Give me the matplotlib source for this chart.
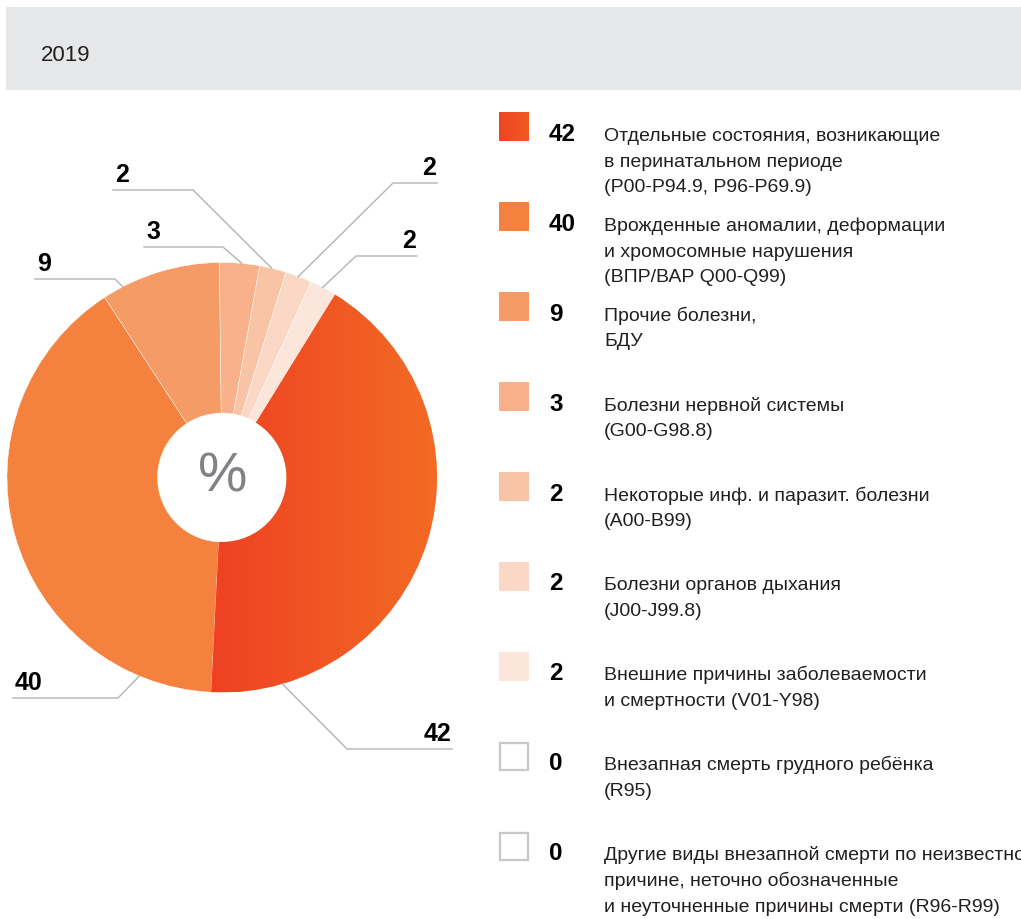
import numpy as np
import matplotlib
matplotlib.use('Agg')
import matplotlib.pyplot as plt
from matplotlib.patches import Rectangle
from matplotlib.colors import LinearSegmentedColormap

plt.rcParams['font.family'] = ['Liberation Sans', 'DejaVu Sans']

# Данные
year = '2019'
values = [42, 40, 9, 3, 2, 2, 2, 0, 0]
descriptions = [
    'Отдельные состояния, возникающие\nв перинатальном периоде\n(P00-P94.9, P96-P69.9)',
    'Врожденные аномалии, деформации\nи хромосомные нарушения\n(ВПР/ВАР Q00-Q99)',
    'Прочие болезни,\nБДУ',
    'Болезни нервной системы\n(G00-G98.8)',
    'Некоторые инф. и паразит. болезни\n(A00-B99)',
    'Болезни органов дыхания\n(J00-J99.8)',
    'Внешние причины заболеваемости\nи смертности (V01-Y98)',
    'Внезапная смерть грудного ребёнка\n(R95)',
    'Другие виды внезапной смерти по неизвестной\nпричине, неточно обозначенные\nи неуточненные причины смерти (R96-R99)',
]
colors = ['#F05A23', '#F4823E', '#F59B66', '#F8B18B', '#F9C4A6', '#FBD8C5', '#FCE5DB', 'white', 'white']
grad_colors = ['#EE4123', '#F36B24']

# Подписи на круге: индекс, угол привязки (по часовой от 12 ч), излом, конец линии
label_layout = [
    (0, 163.7, 347, 749, 452),
    (1, 202.6, 118, 698, 13),
    (2, 332.5, 115, 279, 35),
    (3, 5.3, 223, 247, 144),
    (4, 13.4, 193, 190, 113),
    (5, 20.8, 393, 183, 437),
    (6, 27.9, 356, 256, 417),
]

W, H = 1021, 919
fig = plt.figure(figsize=(W / 100, H / 100), dpi=100)
ax = fig.add_axes([0, 0, 1, 1])

# Шапка
ax.add_patch(Rectangle((6, 7), W - 6, 83, facecolor='#E6E7E8', edgecolor='none'))
ax.text(41, 61, year, fontsize=16, color='#231F20', va='baseline', ha='left')

# Кольцевая диаграмма
cx, cy, R, r_in = 222, 477.5, 215, 64.5
start = 31.7
nz = [i for i, v in enumerate(values) if v > 0]
wedges, _ = ax.pie([values[i] for i in nz], colors=[colors[i] for i in nz],
                   center=(cx, cy), radius=R, startangle=-(90 - start), counterclock=True,
                   wedgeprops=dict(width=R - r_in, edgecolor='white', linewidth=0.3))

grad_cmap = LinearSegmentedColormap.from_list('grad', grad_colors)
bb = wedges[0].get_path().get_extents()
im = ax.imshow(np.linspace(0, 1, 256)[None, :], cmap=grad_cmap,
               extent=(bb.x0, bb.x1, bb.y1, bb.y0), aspect='auto', zorder=1.5)
im.set_clip_path(wedges[0])

ax.text(cx + 1, cy, '%', fontsize=40, color='#808285', ha='center', va='center')

for idx, ang, ex, ey, end_x in label_layout:
    a = np.deg2rad(ang)
    px, py = cx + R * np.sin(a), cy - R * np.cos(a)
    ax.plot([px, ex, end_x], [py, ey, ey], color='#B3B3B3', lw=1.0, zorder=3)
    if end_x < ex:
        ax.text(end_x + 2, ey - 8, str(values[idx]), ha='left', va='baseline',
                fontsize=18, fontweight='bold', color='black')
    else:
        ax.text(end_x - 1, ey - 8, str(values[idx]), ha='right', va='baseline',
                fontsize=18, fontweight='bold', color='black')

# Легенда
for i, (v, desc, col) in enumerate(zip(values, descriptions, colors)):
    top = 112.5 + 89.9 * i
    if i == 0:
        ax.imshow(np.linspace(0, 1, 64)[None, :], cmap=LinearSegmentedColormap.from_list('g2', ['#EE4524', '#F15A23']),
                  extent=(499, 529, top + 29, top), aspect='auto', zorder=2)
    elif v == 0:
        ax.add_patch(Rectangle((500, top + 1), 28, 27, facecolor='white', edgecolor='#C8C8C8', lw=1.6))
    else:
        ax.add_patch(Rectangle((499, top), 30, 29, facecolor=col, edgecolor='none'))
    ax.text(549, top + 28.5, str(v), fontsize=17.5, fontweight='bold', color='black', va='baseline')
    for j, line in enumerate(desc.split('\n')):
        ax.text(604, top + 28.5 + 25.7 * j, line, fontsize=14, color='#231F20', va='baseline')

ax.set_xlim(0, W)
ax.set_ylim(H, 0)
ax.axis('off')

fig.savefig('out.png', dpi=100)
